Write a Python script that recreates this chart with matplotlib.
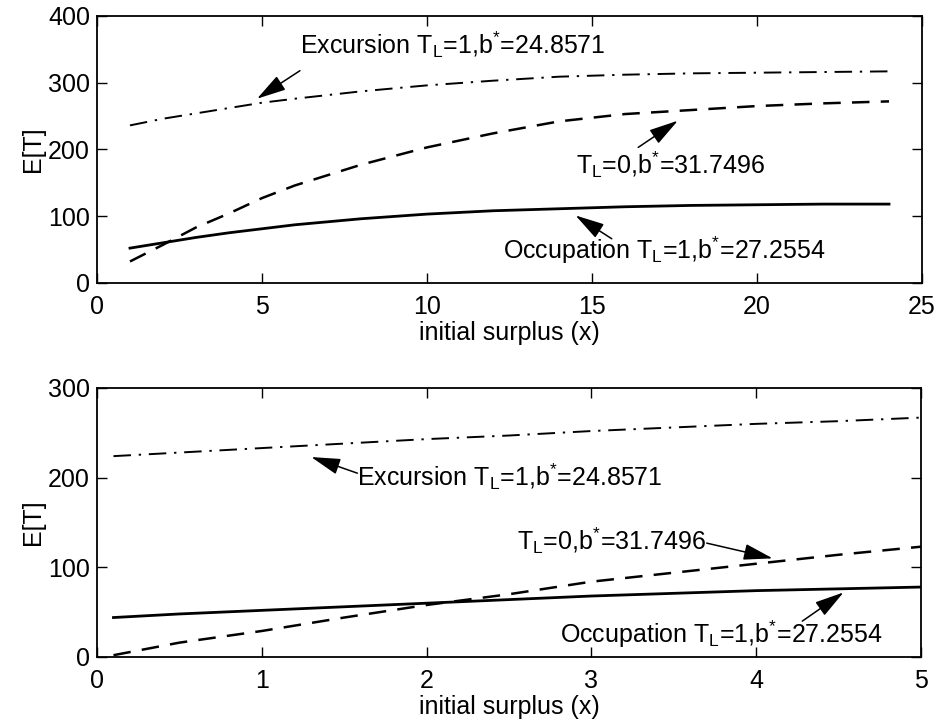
import numpy as np
import matplotlib.pyplot as plt

plt.rcParams['font.family'] = ['Liberation Sans', 'DejaVu Sans']
plt.rcParams['mathtext.fontset'] = 'custom'
plt.rcParams['mathtext.rm'] = 'Liberation Sans'
plt.rcParams['mathtext.it'] = 'Liberation Sans'

# upper panel: initial surplus 1..24
x_top = [1, 2, 3, 4, 5, 6, 8, 10, 12, 14, 16, 18, 20, 22, 24]
occ_top = [52, 60, 68, 75, 81, 87, 96, 103, 108, 111, 114, 116, 117, 118, 118]
tl0_top = [32, 57, 83, 104, 127, 146, 177, 203, 224, 242, 253, 259, 265, 269, 272]
exc_top = [236, 246, 254, 262, 270, 276, 287, 296, 303, 309, 312, 314, 315, 316, 317]

# lower panel: initial surplus 0.1..5
x_bot = [0.1, 0.5, 1, 1.5, 2, 2.5, 3, 3.5, 4, 4.5, 5]
occ_bot = [44, 48, 52, 56, 60, 64, 68, 71, 74, 76, 78]
tl0_bot = [2, 16, 29, 44, 58, 70, 84, 94, 104, 114, 123]
exc_bot = [224, 228, 233, 238, 243, 247, 252, 256, 260, 263, 267]

lbl_exc = r'Excursion T$_\mathregular{L}$=1,b$^\mathregular{*}$=24.8571'
lbl_tl0 = r'T$_\mathregular{L}$=0,b$^\mathregular{*}$=31.7496'
lbl_occ = r'Occupation T$_\mathregular{L}$=1,b$^\mathregular{*}$=27.2554'

FS = 18

fig = plt.figure(figsize=(9.39, 7.27), dpi=100)
ax1 = fig.add_axes([0.1033, 0.611, 0.8786, 0.367])
ax2 = fig.add_axes([0.1033, 0.0963, 0.8775, 0.370])

dashdot = (0, (9, 4, 1.2, 4))
dashed = (0, (7, 4.5))

def draw(ax, x, occ, tl0, exc):
    ax.plot(x, occ, color='black', lw=2.0, ls='-')
    ax.plot(x, tl0, color='black', lw=1.8, ls=dashed)
    ax.plot(x, exc, color='black', lw=1.4, ls=dashdot)
    ax.tick_params(direction='in', top=True, right=True, length=7,
                   width=1.0, labelsize=FS)
    ax.tick_params(axis='x', pad=9)
    ax.tick_params(axis='y', pad=5)
    for s in ax.spines.values():
        s.set_linewidth(1.3)
    ax.set_xlabel('initial surplus (x)', fontsize=FS, labelpad=1)
    ax.set_ylabel('E[T]', fontsize=FS, labelpad=2)

def arrow(ax, head, tail):
    ax.annotate('', xy=head, xytext=tail,
                arrowprops=dict(arrowstyle='-|>,head_length=0.9,head_width=0.25',
                                color='black', lw=1.1, mutation_scale=20,
                                shrinkA=0, shrinkB=0))

draw(ax1, x_top, occ_top, tl0_top, exc_top)
ax1.set_xlim(0, 25)
ax1.set_ylim(0, 400)
ax1.set_xticks([0, 5, 10, 15, 20, 25])
ax1.set_yticks([0, 100, 200, 300, 400])
ax1.text(6.15, 357, lbl_exc, fontsize=FS, va='center', ha='left')
arrow(ax1, (4.85, 276), (6.15, 318))
ax1.text(14.5, 177, lbl_tl0, fontsize=FS, va='center', ha='left')
arrow(ax1, (17.6, 243), (16.4, 203))
ax1.text(12.3, 49, lbl_occ, fontsize=FS, va='center', ha='left')
arrow(ax1, (14.5, 101), (15.6, 66))

draw(ax2, x_bot, occ_bot, tl0_bot, exc_bot)
ax2.set_xlim(0, 5)
ax2.set_ylim(0, 300)
ax2.set_xticks([0, 1, 2, 3, 4, 5])
ax2.set_yticks([0, 100, 200, 300])
ax2.text(1.58, 201, lbl_exc, fontsize=FS, va='center', ha='left')
arrow(ax2, (1.30, 223), (1.58, 205))
ax2.text(2.55, 130, lbl_tl0, fontsize=FS, va='center', ha='left')
arrow(ax2, (4.10, 110), (3.70, 127))
ax2.text(2.81, 25, lbl_occ, fontsize=FS, va='center', ha='left')
arrow(ax2, (4.53, 72), (4.28, 40))

fig.savefig('out.png', dpi=100)
